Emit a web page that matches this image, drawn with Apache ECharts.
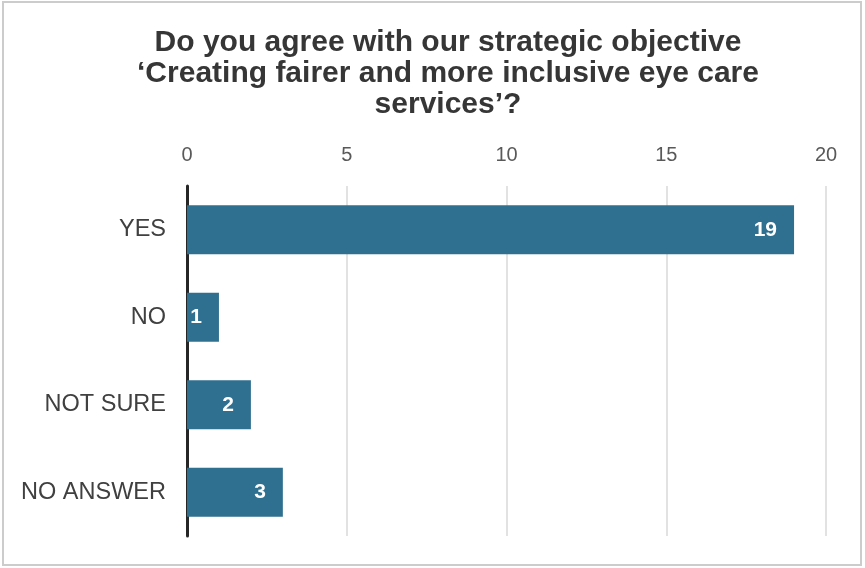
<!DOCTYPE html>
<html>
<head>
<meta charset="utf-8">
<script src="https://cdn.jsdelivr.net/npm/echarts@6/dist/echarts.min.js"></script>
<style>
  html, body { margin: 0; padding: 0; background: #fff; }
  #chart { width: 865px; height: 568px; }
</style>
</head>
<body>
<div id="chart"></div>
<script>
// Survey responses
const categories = ['YES', 'NO', 'NOT SURE', 'NO ANSWER'];
const counts = [19, 1, 2, 3];
const titleText = 'Do you agree with our strategic objective\n\u2018Creating fairer and more inclusive eye care\nservices\u2019?';

const chart = echarts.init(document.getElementById('chart'));
chart.setOption({
  animation: false,
  backgroundColor: '#ffffff',
  graphic: [{
    type: 'rect',
    shape: { x: 3, y: 2, width: 858, height: 563 },
    style: { fill: 'none', stroke: '#cccccc', lineWidth: 2 },
    silent: true
  }],
  title: {
    text: titleText,
    left: 443,
    textAlign: 'center',
    top: 22,
    textStyle: {
      fontFamily: 'Liberation Sans, Arial, sans-serif',
      fontSize: 30,
      fontWeight: 'bold',
      color: '#363636',
      lineHeight: 31
    }
  },
  grid: { left: 187, right: 39, top: 186, bottom: 32, containLabel: false },
  xAxis: {
    type: 'value',
    position: 'top',
    min: 0,
    max: 20,
    interval: 5,
    axisLine: { show: false },
    axisTick: { show: false },
    axisLabel: {
      margin: 21,
      fontFamily: 'Liberation Sans, Arial, sans-serif',
      fontSize: 20,
      color: '#595959'
    },
    splitLine: { lineStyle: { color: '#d9d9d9', width: 1.5 } }
  },
  yAxis: {
    type: 'category',
    inverse: true,
    data: categories,
    axisLine: { show: true, lineStyle: { color: '#262626', width: 3 } },
    axisTick: { show: false },
    axisLabel: {
      margin: 21,
      fontFamily: 'Liberation Sans, Arial, sans-serif',
      fontSize: 23.5,
      color: '#404040'
    }
  },
  series: [{
    type: 'bar',
    data: counts,
    barCategoryGap: '44%',
    itemStyle: { color: '#2f7090' },
    label: {
      show: true,
      position: 'insideRight',
      distance: 17,
      fontFamily: 'Liberation Sans, Arial, sans-serif',
      fontSize: 21,
      fontWeight: 'bold',
      color: '#ffffff'
    }
  }]
});
</script>
</body>
</html>
